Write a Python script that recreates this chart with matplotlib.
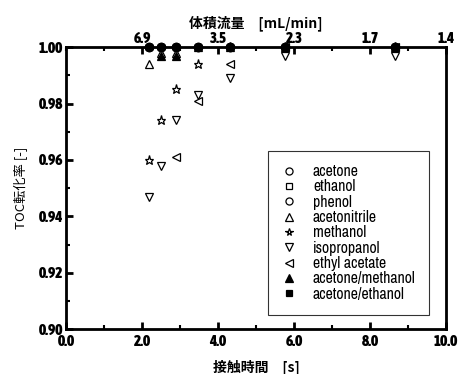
import matplotlib
matplotlib.use("Agg")
import matplotlib.pyplot as plt
from matplotlib import font_manager
from matplotlib.ticker import MultipleLocator

plt.rcParams["font.family"] = ["Noto Sans CJK JP", "DejaVu Sans"]

# 接触時間 [s]
t = [2.18, 2.49, 2.89, 3.48, 4.32, 5.76, 8.66]

acetone = [1.0, 1.0, 1.0, 1.0, 1.0, 1.0, 1.0]
ethanol = [1.0, 1.0, 1.0, 1.0, 1.0, 1.0, 1.0]
phenol = [1.0, 1.0, 1.0, 1.0, 1.0, 1.0, 1.0]
acetonitrile = [0.994, 0.998, 0.998, 1.0, 1.0, 1.0, 1.0]
methanol = [0.960, 0.974, 0.985, 0.994, 1.0, 1.0, 1.0]
isopropanol = [0.947, 0.958, 0.974, 0.983, 0.989, 0.997, 0.997]
t_ea = [2.89, 3.48, 4.32, 5.76, 8.66]
ethyl_acetate = [0.961, 0.981, 0.994, 1.0, 1.0]
t_am = [2.49, 2.89]
acetone_methanol = [0.997, 0.997]
acetone_ethanol = [1.0, 1.0, 1.0, 1.0, 1.0, 1.0, 1.0]

# 上軸（体積流量）
flow_pos = [2, 4, 6, 8, 10]
flow_labels = ["6.9", "3.5", "2.3", "1.7", "1.4"]


# 細いフォントを探す（なければ Liberation Sans）
def narrow_font(bold):
    found = []
    for f in font_manager.fontManager.ttflist:
        w = f.weight if isinstance(f.weight, int) else (700 if "bold" in str(f.weight) else 400)
        if (w >= 600) != bold or f.style != "normal":
            continue
        if "Narrow" in f.name or "Condensed" in f.name or "condensed" in str(f.stretch):
            found.append(f)
    found.sort(key=lambda f: (0 if "Liberation" in f.name else 1 if "Noto Sans" == f.name else 2, f.name))
    if found:
        return dict(fname=found[0].fname)
    return dict(family="Liberation Sans", weight="bold" if bold else "normal")


tick_fp = font_manager.FontProperties(size=11, **narrow_font(True))
leg_fp = font_manager.FontProperties(size=11.3, **narrow_font(False))

fig = plt.figure(figsize=(4.58, 3.74), dpi=100)
ax = fig.add_axes([0.144, 0.120, 0.830, 0.754])

ms = dict(linestyle="none", color="black", clip_on=False, markeredgewidth=0.9)
ax.plot(t, acetone_ethanol, marker="s", mfc="black", markersize=5, label="acetone/ethanol", zorder=3, **ms)
ax.plot(t, acetone, marker="o", mfc="none", markersize=6, label="acetone", **ms)
ax.plot(t, ethanol, marker="s", mfc="none", markersize=5, label="ethanol", **ms)
ax.plot(t, phenol, marker="o", mfc="none", markersize=6, label="phenol", **ms)
ax.plot(t, acetonitrile, marker="^", mfc="none", markersize=6, label="acetonitrile", **ms)
ax.plot(t, methanol, marker="*", mfc="none", markersize=6.5, label="methanol", **ms)
ax.plot(t, isopropanol, marker="v", mfc="none", markersize=6, label="isopropanol", **ms)
ax.plot(t_ea, ethyl_acetate, marker="<", mfc="none", markersize=6, label="ethyl acetate", **ms)
ax.plot(t_am, acetone_methanol, marker="^", mfc="black", markersize=6, label="acetone/methanol", **ms)

ax.set_xlim(0, 10)
ax.set_ylim(0.90, 1.00)
ax.xaxis.set_major_locator(MultipleLocator(2))
ax.xaxis.set_minor_locator(MultipleLocator(1))
ax.yaxis.set_major_locator(MultipleLocator(0.02))
ax.yaxis.set_minor_locator(MultipleLocator(0.01))
ax.xaxis.set_major_formatter(lambda v, p: f"{v:.1f}")
ax.yaxis.set_major_formatter(lambda v, p: f"{v:.2f}")

for s in ax.spines.values():
    s.set_linewidth(2.0)

ax.tick_params(which="major", direction="in", length=5, width=2, pad=2)
ax.tick_params(axis="x", which="major", pad=4)
ax.tick_params(which="minor", direction="in", length=3, width=1.5)
for lab in ax.get_xticklabels() + ax.get_yticklabels():
    lab.set_fontproperties(tick_fp)

ax.set_xlabel("接触時間\u3000[s]", fontsize=10, fontweight="bold", labelpad=8)
ax.set_ylabel("TOC転化率 [-]", fontsize=9.5, labelpad=8)

ax2 = ax.twiny()
ax2.set_xlim(0, 10)
ax2.set_xticks(flow_pos)
ax2.set_xticklabels(flow_labels)
ax2.xaxis.set_minor_locator(MultipleLocator(1))
ax2.tick_params(which="major", direction="in", length=5, width=2, pad=1)
ax2.tick_params(which="minor", direction="in", length=3, width=1.5)
for lab in ax2.get_xticklabels():
    lab.set_fontproperties(tick_fp)
ax2.set_xlabel("体積流量\u3000[mL/min]", fontsize=10, fontweight="bold", labelpad=3)

# 凡例の順番
h, l = ax.get_legend_handles_labels()
order = [1, 2, 3, 4, 5, 6, 7, 8, 0]
leg = ax.legend([h[i] for i in order], [l[i] for i in order],
                loc="lower right", bbox_to_anchor=(0.955, 0.05), prop=leg_fp,
                frameon=True, fancybox=False, edgecolor="black",
                labelspacing=0.02, handlelength=1.0, handletextpad=1.0,
                borderpad=0.85, borderaxespad=0, markerscale=0.85)
leg.get_frame().set_linewidth(0.8)

fig.savefig("out.png", dpi=100)
